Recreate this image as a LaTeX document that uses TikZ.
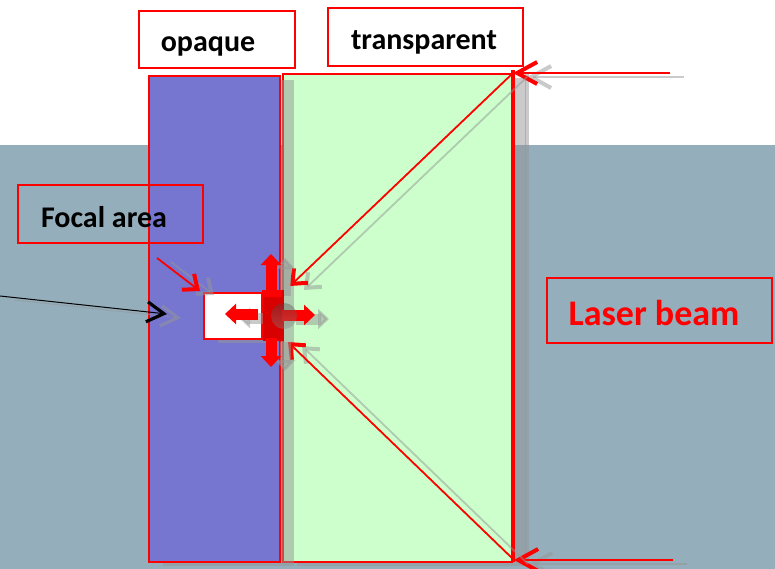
\documentclass[tikz,border=0pt]{standalone}
\usepackage{fontspec}
\setmainfont{Carlito}
\usetikzlibrary{arrows.meta}

\definecolor{sea}{RGB}{148,174,188}
\definecolor{opaquefill}{RGB}{118,118,208}
\definecolor{glass}{RGB}{204,255,204}
\definecolor{shade}{RGB}{150,150,150}

\tikzset{
  % drop shadow: same path, shifted right/down, grey and half transparent
  shadowed/.style={transform canvas={shift={(14,4)}}, draw=shade, fill=shade, opacity=0.5},
  shadowline/.style={transform canvas={shift={(14,4)}}, draw=shade, opacity=0.5},
  slab/.style={draw=red, line width=1.6pt, inner sep=0pt, anchor=center},
  labelbox/.style={draw=red, line width=2pt, inner sep=0pt},
  labeltext/.style={font=\fontsize{30}{36}\selectfont\bfseries, anchor=base, inner sep=0pt},
  laser/.style={red, line width=2pt, -{Straight Barb[length=20pt,width=22pt,line width=4pt]}},
  ray/.style={red, line width=1.8pt, -{Straight Barb[length=12pt,width=20pt,line width=4pt]}},
  blockarrow/.style={red, line width=11pt, -{Triangle[length=11pt,width=20pt]}},
  pointer/.style={line width=1pt, -{Straight Barb[length=17pt,width=20pt,line width=3.2pt]}},
}

\begin{document}
\begin{tikzpicture}[x=1pt,y=-1pt]
  \useasboundingbox (0,0) rectangle (775,569);
  % backdrop: white sky and grey-blue water
  \fill[white] (0,0) rectangle (775,569);
  \fill[sea] (0,145) rectangle (775,569);

  % transparent slab and its shadow
  \fill[shadowed, draw=none] (283,74) rectangle (512,562);
  \node[slab, fill=glass, minimum width=229pt, minimum height=488pt] (glassslab) at (397.5,318) {};

  % opaque slab and its shadow
  \fill[shadowed, draw=none] (149,76) rectangle (280,562);
  \node[slab, fill=opaquefill, minimum width=131pt, minimum height=486pt] (opaqueslab) at (214.5,319) {};

  % rear face of the transparent slab where the beam enters
  \coordinate (beamtop) at (513,70);
  \coordinate (beambot) at (513,562);
  \draw[shadowline, line width=4pt] (beamtop) -- (beambot);
  \draw[red, line width=4.5pt] (beamtop) -- (beambot);

  % incoming laser beams
  \coordinate (laserA) at (670,73);
  \coordinate (hitA) at (513,73);
  \coordinate (laserB) at (673,560);
  \coordinate (hitB) at (514,560);
  \draw[laser, shadowline] (laserA) -- (hitA);
  \draw[laser, shadowline] (laserB) -- (hitB);
  \draw[laser] (laserA) -- (hitA);
  \draw[laser] (laserB) -- (hitB);

  % focusing rays through the transparent slab
  \coordinate (focusA) at (290,286);
  \coordinate (focusB) at (288,342);
  \draw[ray, shadowline] (hitA) -- (focusA);
  \draw[ray, shadowline] (hitB) -- (focusB);
  \draw[ray] (hitA) -- (focusA);
  \draw[ray] (hitB) -- (focusB);

  % focal spot
  \fill[shadowed, draw=none] (204,293) rectangle (262,339);
  \node[draw=red, line width=1.6pt, fill=white, minimum width=58pt, minimum height=46pt, inner sep=0pt] (spot) at (233,316) {};

  \coordinate (hub) at (271,315);
  \coordinate (upEnd) at (271,254);
  \coordinate (downEnd) at (271,367);
  \coordinate (rightEnd) at (315,315);
  \coordinate (leftEnd) at (225,314);
  \coordinate (upStart) at (271,292);
  \coordinate (downStart) at (271,338);
  \coordinate (rightStart) at (282,315);
  \coordinate (leftStart) at (258,314);
  \draw[blockarrow, shadowline] (upStart) -- (upEnd);
  \draw[blockarrow, shadowline] (downStart) -- (downEnd);
  \draw[blockarrow, shadowline] (rightStart) -- (rightEnd);
  \draw[blockarrow, shadowline] (leftStart) -- (leftEnd);
  \fill[red!85!black] (263,290) rectangle (284,341);
  \fill[red] (262,290) rectangle (282,297);
  \draw[blockarrow] (upStart) -- (upEnd);
  \draw[blockarrow] (downStart) -- (downEnd);
  \draw[blockarrow] (rightStart) -- (rightEnd);
  \draw[blockarrow] (leftStart) -- (leftEnd);
  \fill[shade, opacity=0.2] (284,316) circle (13);

  % pointers
  \coordinate (farleft) at (0,296);
  \coordinate (zone) at (167,314);
  \draw[pointer, shadowline] (farleft) -- (zone);
  \draw[pointer] (farleft) -- (zone);
  \coordinate (focaltail) at (157,258);
  \coordinate (focalhead) at (200,291);
  \draw[ray, shadowline] (focaltail) -- (focalhead);
  \draw[ray] (focaltail) -- (focalhead);

  % labels
  \node[labelbox, minimum width=156pt, minimum height=57pt] (opaquebox) at (217,39.5) {};
  \node[labeltext] (opaquetext) at (208,52) {opaque};
  \node[labelbox, minimum width=195pt, minimum height=58pt] (glassbox) at (425.5,37) {};
  \node[labeltext] (glasstext) at (424,50) {transparent};
  \node[labelbox, minimum width=185pt, minimum height=58pt] (focalbox) at (110.5,214) {};
  \node[labeltext] (focaltext) at (104,227) {Focal area};
  \node[labelbox, minimum width=225pt, minimum height=65pt] (laserbox) at (659.5,310.5) {};
  \node[labeltext, red, font=\fontsize{36}{42}\selectfont\bfseries] (lasertext) at (654,325) {Laser beam};
\end{tikzpicture}
\end{document}
